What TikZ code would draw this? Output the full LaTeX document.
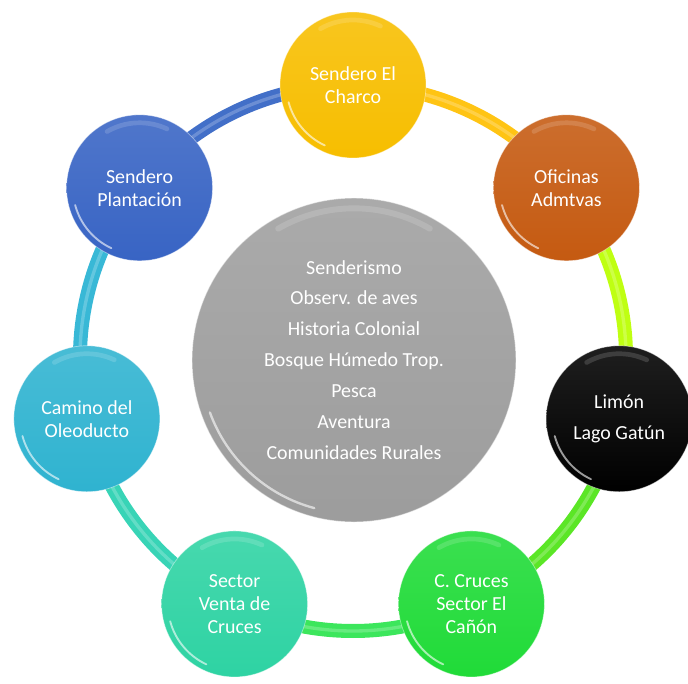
\documentclass[tikz,border=0pt]{standalone}
\usepackage{fontspec}
\setmainfont{Carlito}
\usetikzlibrary{backgrounds}

\definecolor{charcoY}{HTML}{F7BE00}
\definecolor{oficinasO}{HTML}{C55A11}
\definecolor{limonK}{HTML}{000000}
\definecolor{crucesG}{HTML}{20DB38}
\definecolor{ventaT}{HTML}{2ED3A3}
\definecolor{oleoC}{HTML}{2FB3D0}
\definecolor{plantB}{HTML}{3864C4}
\definecolor{centroG}{HTML}{A3A3A3}

\definecolor{ringYel}{HTML}{FFC414}
\definecolor{ringLime}{HTML}{BFFF12}
\definecolor{ringGrn}{HTML}{5BE626}
\definecolor{ringGrnB}{HTML}{3CE65C}
\definecolor{ringTeal}{HTML}{38D4B6}
\definecolor{ringCyan}{HTML}{38B8D6}
\definecolor{ringBlue}{HTML}{426FC8}

\begin{document}
\begin{tikzpicture}[
  bubble/.style={circle, minimum size=4.38cm, inner sep=0pt, align=center,
    text=white, font=\fontsize{17}{19.6}\selectfont,
    top color=#1!88!white, bottom color=#1,
    draw=white, draw opacity=.45, line width=.6pt,
    path picture={
      \draw[white, opacity=.6, line width=1.6pt, line cap=round]
        ([shift={(195:2.0cm)}]path picture bounding box.center)
        arc[start angle=195, end angle=245, radius=2.0cm];
      \draw[white, opacity=.15, line width=4pt, line cap=round]
        ([shift={(65:1.95cm)}]path picture bounding box.center)
        arc[start angle=65, end angle=120, radius=1.95cm];
    }},
  centro/.style={circle, minimum size=9.72cm, inner sep=0pt, align=center,
    text=white, font=\fontsize{17}{26.4}\selectfont,
    top color=centroG!92!white, bottom color=centroG!96!black,
    draw=white, draw opacity=.5, line width=.8pt,
    path picture={
      \draw[white, opacity=.6, line width=2pt, line cap=round]
        ([shift={(200:4.6cm)}]path picture bounding box.center)
        arc[start angle=200, end angle=255, radius=4.6cm];
      \draw[white, opacity=.15, line width=5pt, line cap=round]
        ([shift={(60:4.55cm)}]path picture bounding box.center)
        arc[start angle=60, end angle=120, radius=4.55cm];
    }},
  ring/.style={line width=0.42cm, draw=#1,
    postaction={draw=white, draw opacity=.22, line width=0.1cm}},
]
  \useasboundingbox (-10.59,-9.75) rectangle (10.05,10.74);

  % outer stations
  \node[bubble=charcoY]   (charco)     at (90:8.19)      {Sendero El\\Charco};
  \node[bubble=oficinasO] (oficinas)   at (38.57:8.19)   {Oficinas\\Admtvas};
  \node[bubble=limonK, font=\fontsize{17}{26.4}\selectfont]
                          (limon)      at (-12.86:8.19)  {Limón\\Lago Gatún};
  \node[bubble=crucesG]   (cruces)     at (-64.29:8.19)  {C. Cruces\\Sector El\\Cañón};
  \node[bubble=ventaT]    (venta)      at (-115.71:8.19) {Sector\\Venta de\\Cruces};
  \node[bubble=oleoC]     (oleoducto)  at (-167.14:8.19) {Camino del\\Oleoducto};
  \node[bubble=plantB]    (plantacion) at (141.43:8.19)  {Sendero\\Plantación};

  % middle
  \node[centro] (centro) at (0.03,-0.06)
    {Senderismo\\Observ. de aves\\Historia Colonial\\Bosque Húmedo Trop.\\Pesca\\Aventura\\Comunidades Rurales};

  % ring
  \begin{scope}[on background layer]
    \draw[ring=ringYel]  (charco.center)     to[bend left=25.7, looseness=.9] (oficinas.center);
    \draw[ring=ringLime] (oficinas.center)   to[bend left=25.7, looseness=.9] (limon.center);
    \draw[ring=ringGrn]  (limon.center)      to[bend left=25.7, looseness=.9] (cruces.center);
    \draw[ring=ringGrnB] (cruces.center)     to[bend left=25.7, looseness=.9] (venta.center);
    \draw[ring=ringTeal] (venta.center)      to[bend left=25.7, looseness=.9] (oleoducto.center);
    \draw[ring=ringCyan] (oleoducto.center)  to[bend left=25.7, looseness=.9] (plantacion.center);
    \draw[ring=ringBlue] (plantacion.center) to[bend left=25.7, looseness=.9] (charco.center);
  \end{scope}
\end{tikzpicture}
\end{document}
